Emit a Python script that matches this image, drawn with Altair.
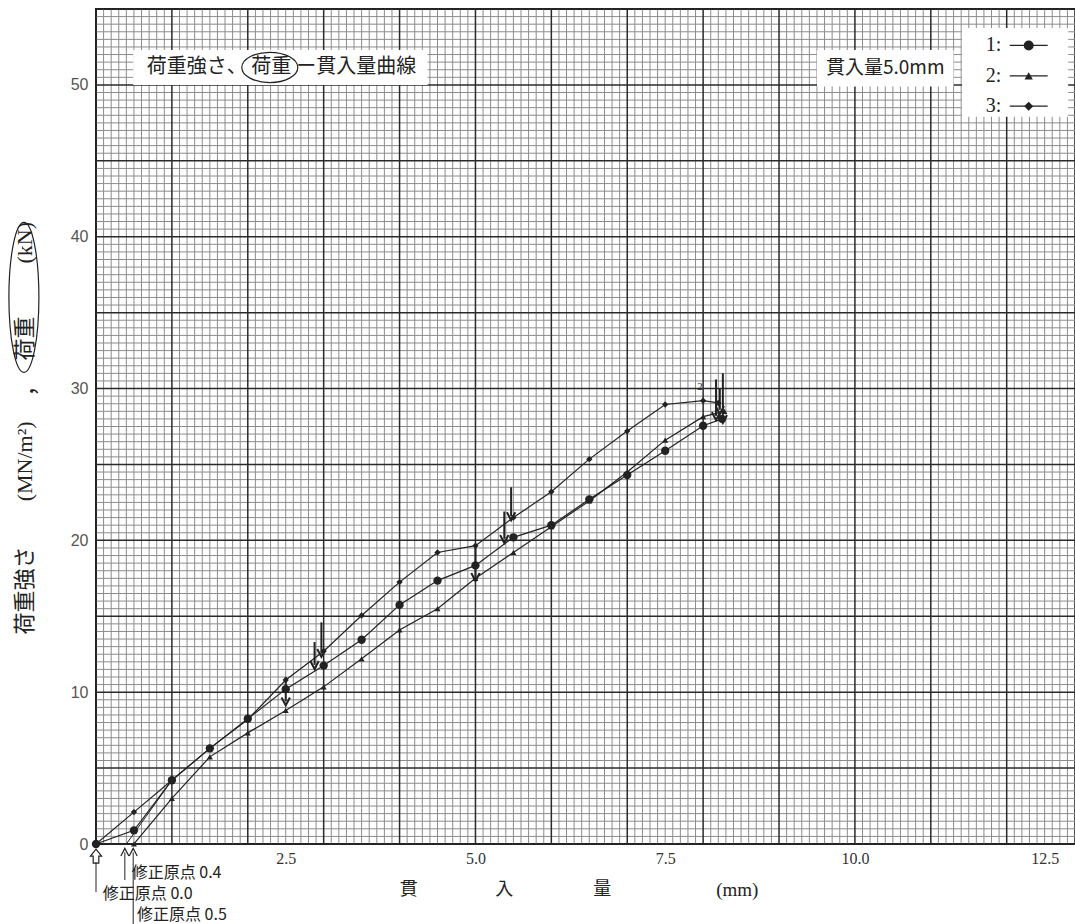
import altair as alt
import pandas as pd

# ---------------- data ----------------
pen = [0.0, 0.5, 1.0, 1.5, 2.0, 2.5, 3.0, 3.5, 4.0, 4.5, 5.0, 5.5, 6.0, 6.5, 7.0, 7.5, 8.0]

s1_x = pen + [8.25]
s1_y = [0.0, 0.9, 4.2, 6.3, 8.25, 10.2, 11.75, 13.45, 15.75, 17.35, 18.35, 20.2,
        21.0, 22.7, 24.3, 25.9, 27.55, 28.0]

s2_x = pen + [8.28]
s2_y = [0.0, 0.0, 3.0, 5.74, 7.32, 8.8, 10.35, 12.2, 14.1, 15.5, 17.5, 19.2,
        20.9, 22.6, 24.5, 26.6, 28.15, 28.5]

s3_x = pen + [8.2]
s3_y = [0.0, 2.1, 4.2, 6.3, 8.2, 10.8, 12.7, 15.05, 17.25, 19.2, 19.65, 21.5,
        23.2, 25.35, 27.2, 28.95, 29.2, 29.05]

# tangent (origin-correction) construction line
tan_x = [0.4, 1.0]
tan_y = [0.0, 4.2]

# down arrows marking readings
arr_x = [2.5, 2.88, 2.97, 5.0, 5.38, 5.47, 8.17, 8.22, 8.26]
arr_top = [11.0, 13.3, 14.6, 19.7, 21.9, 23.5, 30.6, 30.0, 31.0]
arr_bot = [9.4, 11.8, 12.6, 17.6, 20.1, 21.6, 28.2, 28.6, 28.0]

x_ticks = [2.5, 5.0, 7.5, 10.0, 12.5]
y_ticks = [0, 10, 20, 30, 40, 50]

# ---------------- scales / axes ----------------
SX = alt.Scale(domain=[0, 12.9], nice=False, zero=False)
SY = alt.Scale(domain=[0, 55], nice=False, zero=False)
AX = alt.Axis(values=x_ticks, format=".1f", labelFont="Liberation Serif", labelFontSize=16,
              labelColor="#333", labelPadding=6, ticks=False, domain=False, grid=False,
              title=None, labelFlush=False, labelOverlap=False)
AY = alt.Axis(values=y_ticks, labelFont="Liberation Sans", labelFontSize=16, labelColor="#555",
              labelPadding=8, ticks=False, domain=False, grid=False, title=None)


def X(f="x"):
    return alt.X(f"{f}:Q", scale=SX, axis=AX)


def Y(f="y"):
    return alt.Y(f"{f}:Q", scale=SY, axis=AY)


CJK = "Noto Sans CJK JP"
INK = "#222222"

# ---------------- grid ----------------
fine_x = pd.DataFrame({"x": [round(i * 0.1, 1) for i in range(130) if i % 10]})
thick_x = pd.DataFrame({"x": [float(i) for i in range(13)]})
fine_y = pd.DataFrame({"y": [i * 0.5 for i in range(111) if i % 10]})
thick_y = pd.DataFrame({"y": [float(i * 5) for i in range(12)]})

g1 = alt.Chart(fine_x).mark_rule(color="#8c8c8c", strokeWidth=1).encode(x=X())
g2 = alt.Chart(fine_y).mark_rule(color="#8c8c8c", strokeWidth=1).encode(y=Y())
g3 = alt.Chart(thick_x).mark_rule(color="#2a2a2a", strokeWidth=1.5).encode(x=X())
g4 = alt.Chart(thick_y).mark_rule(color="#2a2a2a", strokeWidth=1.5).encode(y=Y())

# ---------------- white label boxes ----------------
boxes = pd.DataFrame({
    "x": [0.49, 9.5, 11.41],
    "x2": [4.37, 11.3, 12.81],
    "y": [50.0, 49.9, 47.9],
    "y2": [52.3, 52.3, 53.75],
})
box_layer = alt.Chart(boxes).mark_rect(fill="white").encode(
    x=X(), x2="x2:Q", y=Y(), y2="y2:Q")

# ---------------- curves ----------------
curves = pd.concat([
    pd.DataFrame({"x": s1_x, "y": s1_y, "s": "1"}),
    pd.DataFrame({"x": s2_x, "y": s2_y, "s": "2"}),
    pd.DataFrame({"x": s3_x, "y": s3_y, "s": "3"}),
])
lines = alt.Chart(curves).mark_line(color=INK, strokeWidth=1.2).encode(
    x=X(), y=Y(), detail="s:N", order="x:Q")

tan_df = pd.DataFrame({"x": tan_x, "y": tan_y})
tan_line = alt.Chart(tan_df).mark_line(color=INK, strokeWidth=1).encode(x=X(), y=Y())

p1 = alt.Chart(pd.DataFrame({"x": s1_x, "y": s1_y})).mark_point(
    shape="circle", filled=True, size=70, color=INK, opacity=1).encode(x=X(), y=Y())
p2 = alt.Chart(pd.DataFrame({"x": s2_x, "y": s2_y})).mark_point(
    shape="triangle-up", filled=True, size=36, color=INK, opacity=1).encode(x=X(), y=Y())
p3 = alt.Chart(pd.DataFrame({"x": s3_x, "y": s3_y})).mark_point(
    shape="diamond", filled=True, size=40, color=INK, opacity=1).encode(x=X(), y=Y())

# ---------------- arrows on curves ----------------
arr_df = pd.DataFrame({"x": arr_x, "y": arr_top, "y2": arr_bot})
arr_shaft = alt.Chart(arr_df).mark_rule(color=INK, strokeWidth=2).encode(x=X(), y=Y(), y2="y2:Q")
arr_head = alt.Chart(arr_df).mark_point(
    shape="M -1 -0.9 L 0 1 L 1 -0.9", filled=False, size=70, color=INK, strokeWidth=2,
    opacity=1).encode(x=X(), y=Y("y2"))

small2 = alt.Chart(pd.DataFrame({"x": [7.96], "y": [30.1], "t": ["2"]})).mark_text(
    font="Liberation Serif", fontSize=11, color=INK).encode(x=X(), y=Y(), text="t:N")

# ---------------- legend (hand-built, as in the reference) ----------------
leg_rows = [52.6, 50.6, 48.6]
leg_txt = alt.Chart(pd.DataFrame({"x": [11.93] * 3, "y": leg_rows, "t": ["1:", "2:", "3:"]})).mark_text(
    font="Liberation Serif", fontSize=20, color=INK, align="right", baseline="middle").encode(
    x=X(), y=Y(), text="t:N")
leg_line_df = pd.DataFrame({"x": [12.04] * 3, "x2": [12.54] * 3, "y": leg_rows})
leg_line = alt.Chart(leg_line_df).mark_rule(color=INK, strokeWidth=1.2).encode(
    x=X(), x2="x2:Q", y=Y())
lm1 = alt.Chart(pd.DataFrame({"x": [12.29], "y": [leg_rows[0]]})).mark_point(
    shape="circle", filled=True, size=100, color=INK, opacity=1).encode(x=X(), y=Y())
lm2 = alt.Chart(pd.DataFrame({"x": [12.29], "y": [leg_rows[1]]})).mark_point(
    shape="triangle-up", filled=True, size=70, color=INK, opacity=1).encode(x=X(), y=Y())
lm3 = alt.Chart(pd.DataFrame({"x": [12.29], "y": [leg_rows[2]]})).mark_point(
    shape="diamond", filled=True, size=80, color=INK, opacity=1).encode(x=X(), y=Y())

# ---------------- titles inside the plot ----------------
title_df = pd.DataFrame({
    "x": [0.67, 2.64],
    "y": [51.2, 51.2],
    "t": ["荷重強さ、", "ー貫入量曲線"],
})
title_txt = alt.Chart(title_df).mark_text(
    font=CJK, fontSize=20, color=INK, align="left", baseline="middle").encode(
    x=X(), y=Y(), text="t:N")
title_mid = alt.Chart(pd.DataFrame({"x": [2.31], "y": [51.2], "t": ["荷重"]})).mark_text(
    font=CJK, fontSize=20, color=INK, align="center", baseline="middle").encode(
    x=X(), y=Y(), text="t:N")
ell_h = alt.Chart(pd.DataFrame({"x": [2.29], "y": [51.15]})).mark_point(
    shape="M -1 0 A 1 0.54 0 1 1 1 0 A 1 0.54 0 1 1 -1 0 Z", filled=False, size=3136,
    color=INK, strokeWidth=1.2, opacity=1).encode(x=X(), y=Y())

pen_txt = alt.Chart(pd.DataFrame({"x": [10.4], "y": [51.1], "t": ["貫入量5.0mm"]})).mark_text(
    font=CJK, fontSize=19, color=INK, align="center", baseline="middle").encode(
    x=X(), y=Y(), text="t:N")

# ---------------- y-axis title (rotated) ----------------
yt_df = pd.DataFrame({
    "x": [-0.935, -0.935, -0.9, -0.935, -0.935],
    "y": [16.7, 25.2, 30.2, 33.3, 39.6],
    "t": ["荷重強さ", "(MN/m²)", "，", "荷重", "(kN)"],
})
yt_cjk = alt.Chart(yt_df.iloc[[0, 2, 3]]).mark_text(
    font=CJK, fontSize=22, color=INK, angle=270, align="center", baseline="middle").encode(
    x=X(), y=Y(), text="t:N")
yt_lat = alt.Chart(yt_df.iloc[[1, 4]]).mark_text(
    font="Liberation Serif", fontSize=22, color=INK, angle=270, align="center",
    baseline="middle").encode(x=X(), y=Y(), text="t:N")
ell_v = alt.Chart(pd.DataFrame({"x": [-0.95], "y": [36.0]})).mark_point(
    shape="M 0 -1 A 0.2 1 0 1 1 0 1 A 0.2 1 0 1 1 0 -1 Z", filled=False, size=22500,
    color=INK, strokeWidth=1.2, opacity=1).encode(x=X(), y=Y())

# ---------------- x-axis title ----------------
xt_df = pd.DataFrame({"x": [4.12, 5.38, 6.67], "y": [-3.03] * 3, "t": ["貫", "入", "量"]})
xt_cjk = alt.Chart(xt_df).mark_text(font=CJK, fontSize=18, color=INK, baseline="middle").encode(
    x=X(), y=Y(), text="t:N")
xt_mm = alt.Chart(pd.DataFrame({"x": [8.45], "y": [-3.03], "t": ["(mm)"]})).mark_text(
    font="Liberation Serif", fontSize=19, color=INK, baseline="middle").encode(
    x=X(), y=Y(), text="t:N")

# ---------------- corrected-origin markers below the axis ----------------
up_df = pd.DataFrame({"x": [0.0, 0.38, 0.49], "y": [-1.19, -0.55, -0.55], "y2": [-3.16, -2.37, -5.3]})
up_shaft = alt.Chart(up_df).mark_rule(color=INK, strokeWidth=1).encode(x=X(), y=Y(), y2="y2:Q")
up_head = alt.Chart(up_df.iloc[[1, 2]]).mark_point(
    shape="M -1 0.9 L 0 -1 L 1 0.9", filled=False, size=64, color=INK, strokeWidth=1.2,
    opacity=1).encode(x=X(), y=Y())
hollow = alt.Chart(pd.DataFrame({"x": [0.0], "y": [-0.8]})).mark_point(
    shape="M -0.4 1 L -0.4 0 L -0.8 0 L 0 -1 L 0.8 0 L 0.4 0 L 0.4 1 Z", filled=False,
    size=196, color=INK, strokeWidth=1.2, opacity=1).encode(x=X(), y=Y())
corr_df = pd.DataFrame({
    "x": [0.47, 0.09, 0.54],
    "y": [-1.91, -3.29, -4.68],
    "t": ["修正原点 0.4", "修正原点 0.0", "修正原点 0.5"],
})
corr_txt = alt.Chart(corr_df).mark_text(
    font=CJK, fontSize=16, color=INK, align="left", baseline="middle").encode(
    x=X(), y=Y(), text="t:N")

chart = alt.layer(
    g1, g2, g3, g4, box_layer,
    tan_line, lines, p1, p2, p3, arr_shaft, arr_head, small2,
    leg_txt, leg_line, lm1, lm2, lm3,
    title_txt, title_mid, ell_h, pen_txt,
    yt_cjk, yt_lat, ell_v, xt_cjk, xt_mm,
    up_shaft, up_head, hollow, corr_txt,
).properties(
    width=979, height=835,
    autosize=alt.AutoSizeParams(type="none"),
    padding={"left": 96, "top": 9, "right": 0, "bottom": 80},
    background="white",
).configure_view(stroke="#111111", strokeWidth=2)

chart.save("out.html", embed_options={"renderer": "svg", "actions": False})
